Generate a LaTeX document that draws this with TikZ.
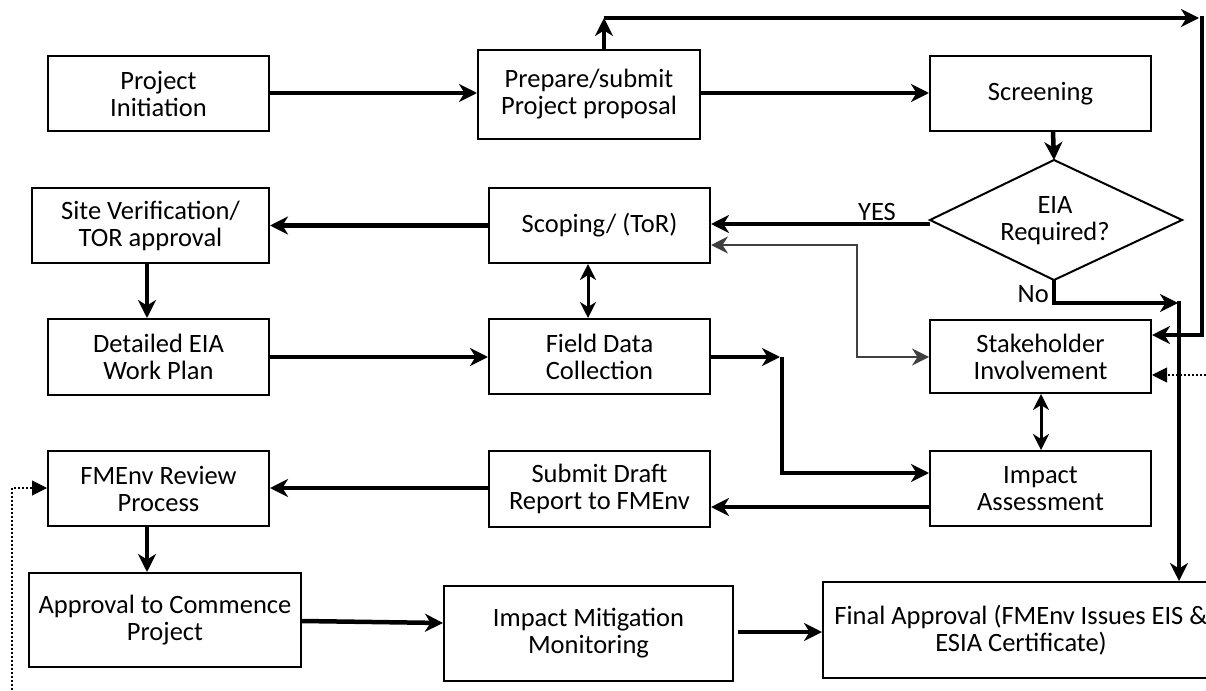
\documentclass[tikz,border=0pt]{standalone}
\usepackage{fontspec}
\setmainfont{Carlito}
\usetikzlibrary{arrows.meta,calc}
\tikzset{
  box/.style={draw, line width=2pt, align=center, inner sep=0pt, font=\fontsize{26.5}{27}\selectfont},
  lbl/.style={inner sep=0pt, font=\fontsize{26.5}{27}\selectfont},
  arr/.style={line width=4.5pt, -{Stealth[length=18pt,width=18pt,inset=5.5pt]}},
  dbl/.style={line width=3pt, {Stealth[length=16pt,width=16pt,inset=5pt]}-{Stealth[length=16pt,width=16pt,inset=5pt]}},
  thinarr/.style={line width=1.6pt, draw=black!75, -{Stealth[length=17pt,width=17pt,inset=5.5pt]}},
  dotline/.style={line width=2pt, dotted},
  dottip/.style={line width=1pt, -{Triangle[length=15pt,width=15pt]}},
}
\begin{document}
\begin{tikzpicture}[x=1pt,y=-1pt]
\useasboundingbox (0,0) rectangle (1206,690);
\clip (0,0) rectangle (1206,690);
% boxes
\node[box, minimum width=221pt, minimum height=75pt] (init) at (158.5,93.5) {Project\\Initiation};
\node[box, minimum width=222pt, minimum height=89pt] (prep) at (589,94.5) {Prepare/submit\\Project proposal};
\node[box, minimum width=221pt, minimum height=75pt] (screen) at (1040.5,93.5) {Screening};
\coordinate (dtop) at (1054,160);
\coordinate (dleft) at (930,220);
\coordinate (dright) at (1182,220);
\coordinate (dbot) at (1054,280);
\draw[line width=2pt, line join=miter] (dtop) -- (dright) -- (dbot) -- (dleft) -- cycle;
\node[lbl, align=center] (eia) at (1055,221) {EIA\\Required?};
\node[box, minimum width=237pt, minimum height=75pt] (site) at (150.5,225.5) {Site Verification/\\TOR approval};
\node[box, minimum width=221pt, minimum height=75pt] (scope) at (599.5,225.5) {Scoping/ (ToR)};
\node[box, minimum width=221pt, minimum height=76pt] (detail) at (158.5,357) {Detailed EIA\\Work Plan};
\node[box, minimum width=221pt, minimum height=75pt] (field) at (599.5,356.5) {Field Data\\Collection};
\node[box, minimum width=221pt, minimum height=73pt] (stake) at (1040.5,356.5) {Stakeholder\\Involvement};
\node[box, minimum width=221pt, minimum height=75pt] (review) at (158.5,488.5) {FMEnv Review\\Process};
\node[box, minimum width=221pt, minimum height=76pt] (submit) at (599.5,489) {Submit Draft\\Report to FMEnv};
\node[box, minimum width=221pt, minimum height=75pt] (impact) at (1040.5,488.5) {Impact\\Assessment};
\node[box, minimum width=272pt, minimum height=94pt] (approval) at (165,620) {Approval to Commence\\Project};
\node[box, minimum width=289pt, minimum height=95pt] (mitig) at (588.5,633.5) {Impact Mitigation\\Monitoring};
\node[box, minimum width=396pt, minimum height=96pt] (final) at (1021,630) {Final Approval (FMEnv Issues EIS \&\\ESIA Certificate)};
% labels
\node[lbl] (yes) at (877,212) {YES};
\node[lbl, anchor=east] (no) at (1049,294) {No};
% helper coordinates
\coordinate (topL) at (604,18);
\coordinate (topR) at (1199,18);
\coordinate (rightC) at (1202,16);
\coordinate (fcorner) at (780,357);
\coordinate (fjoin) at (782,357);
\coordinate (tj) at (857,245);
\coordinate (tj2) at (857,357);
\coordinate (nocorner) at (1054,303);
\coordinate (noend) at (1178,303);
\coordinate (novert) at (1179,301);
\coordinate (dotR) at (1206,375);
\coordinate (dotRt) at (1166,375);
\coordinate (dotB) at (12,690);
\coordinate (dotLt) at (33,488);
% connectors
\draw[arr] (init.east |- 0,93) -- (prep.west |- 0,93);
\draw[arr] (prep.north -| topL) -- (topL);
\draw[arr] (topL) -- (topR);
\draw[arr] (rightC) |- (stake.east |- 0,335);
\draw[arr] (prep.east |- 0,93) -- (screen.west |- 0,93);
\draw[arr] (screen.south -| 1053,0) -- (dtop);
\draw[arr] (dleft |- 0,224) -- (scope.east |- 0,224);
\draw[arr] (scope.west) -- (site.east);
\draw[arr] (site.south -| 147,0) -- (detail.north -| 147,0);
\draw[arr] (detail.east) -- (field.west |- detail.east);
\draw[dbl] (scope.south -| 588,0) -- (field.north -| 588,0);
\draw[arr] (field.east |- fcorner) -- (fcorner);
\draw[arr] (fjoin) |- (impact.west |- 0,473);
\draw[thinarr] (tj2) |- (scope.east |- tj);
\draw[thinarr] (tj) |- (stake.west |- tj2);
\draw[dbl] (stake.south -| 1041,0) -- (impact.north -| 1041,0);
\draw[arr] (impact.west |- 0,507) -- (submit.east |- 0,507);
\draw[arr] (submit.west |- 0,488) -- (review.east |- 0,488);
\draw[arr] (review.south -| 147,0) -- (approval.north -| 147,0);
\draw[arr] (approval.east |- 0,621) -- (mitig.west |- 0,623);
\draw[arr] (738,632) -- (final.west |- 0,632);
\draw[arr] (dbot) -- (nocorner) -- (noend);
\draw[arr] (novert) -- (final.north -| novert);
\draw[dotline] (dotR) -- (dotRt);
\draw[dottip] (dotRt) -- (stake.east |- dotR);
\draw[dotline] (dotB) |- (dotLt);
\draw[dottip] (dotLt) -- (review.west |- 0,488);
\end{tikzpicture}
\end{document}
